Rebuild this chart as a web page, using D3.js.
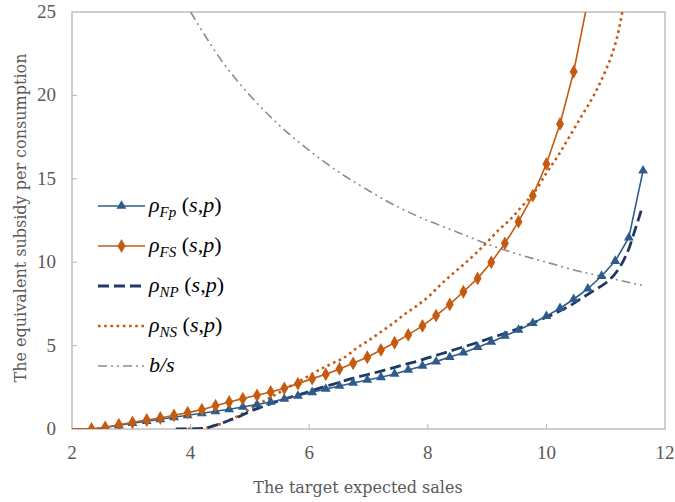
<!DOCTYPE html>
<html>
<head>
<meta charset="utf-8">
<script src="https://cdn.jsdelivr.net/npm/d3@7"></script>
<style>
  body { margin: 0; background: #fff; }
  svg { display: block; }
</style>
</head>
<body>
<div id="chart"></div>
<script>
// chart size
var width = 675;
var height = 502;

// target expected sales where the marker series are sampled
var salesX = [2.33, 2.56, 2.79, 3.02, 3.26, 3.49, 3.72, 3.95, 4.19, 4.42, 4.65,
  4.88, 5.12, 5.35, 5.58, 5.81, 6.05, 6.28, 6.51, 6.74, 6.98, 7.21, 7.44, 7.67,
  7.91, 8.14, 8.37, 8.60, 8.84, 9.07, 9.30, 9.53, 9.77, 10.00, 10.23, 10.46,
  10.70, 10.93, 11.16, 11.39, 11.63];

// rho_Fp(s,p) - blue, triangles
var rhoFp = [0.0, 0.09, 0.22, 0.35, 0.47, 0.58, 0.70, 0.82, 0.94, 1.06, 1.18,
  1.32, 1.47, 1.62, 1.80, 1.98, 2.20, 2.40, 2.58, 2.76, 2.94, 3.10, 3.30, 3.54,
  3.78, 4.04, 4.31, 4.57, 4.90, 5.22, 5.58, 5.94, 6.34, 6.77, 7.24, 7.78,
  8.41, 9.17, 10.07, 11.47, 15.49];

// rho_FS(s,p) - orange, diamonds (last point runs past the top)
var rhoFS = [0.0, 0.10, 0.26, 0.40, 0.54, 0.66, 0.82, 0.98, 1.16, 1.40, 1.62,
  1.82, 2.02, 2.22, 2.44, 2.72, 3.02, 3.28, 3.60, 3.94, 4.30, 4.74, 5.17, 5.64,
  6.18, 6.80, 7.47, 8.23, 9.03, 9.99, 11.13, 12.43, 13.99, 15.89, 18.29, 21.42,
  25.7];

// rho_NP(s,p) - navy dashed
var npX = [3.75, 4.2, 4.4, 4.6, 4.8, 5.0, 5.2, 5.4, 5.6, 5.8, 6.0, 6.2, 6.4, 6.6,
  6.8, 7.0, 7.2, 7.4, 7.6, 7.8, 8.0, 8.2, 8.4, 8.6, 8.8, 9.0, 9.2, 9.4, 9.6, 9.8,
  10.0, 10.2, 10.4, 10.6, 10.8, 11.0, 11.2, 11.3, 11.4, 11.5, 11.6];
var rhoNP = [0, 0.03, 0.2, 0.45, 0.72, 1.05, 1.32, 1.58, 1.82, 2.03, 2.25, 2.48,
  2.68, 2.9, 3.1, 3.28, 3.46, 3.65, 3.85, 4.04, 4.26, 4.48, 4.7, 4.92, 5.14,
  5.38, 5.62, 5.86, 6.12, 6.4, 6.7, 7.03, 7.4, 7.85, 8.3, 8.75, 9.5, 10.1, 10.9,
  12.0, 13.1];

// rho_NS(s,p) - orange dotted
var nsX = [3.85, 4.2, 4.4, 4.6, 4.8, 5.0, 5.2, 5.4, 5.6, 5.8, 6.0, 6.2, 6.4, 6.6,
  6.8, 7.0, 7.2, 7.4, 7.6, 7.8, 8.0, 8.2, 8.4, 8.6, 8.8, 9.0, 9.2, 9.4, 9.6, 9.8,
  10.0, 10.2, 10.4, 10.6, 10.8, 11.0, 11.1, 11.2, 11.3];
var rhoNS = [0, 0.04, 0.2, 0.44, 0.78, 1.2, 1.6, 2.0, 2.4, 2.8, 3.2, 3.6, 3.95,
  4.3, 4.85, 5.3, 5.8, 6.3, 6.85, 7.35, 7.9, 8.6, 9.25, 9.85, 10.5, 11.2, 11.95,
  12.6, 13.4, 14.2, 15.35, 16.4, 17.6, 18.8, 20.0, 21.5, 22.4, 23.6, 25.4];

// b/s - gray dash dot dot
var bsX = [4.0, 4.5, 5.0, 5.5, 6.0, 6.5, 7.0, 7.5, 8.0, 8.5, 9.0, 9.5, 10.0,
  10.5, 11.0, 11.63];
var bsY = [25, 22.2, 20, 18.2, 16.7, 15.4, 14.3, 13.3, 12.5, 11.8, 11.1, 10.5,
  10.0, 9.5, 9.1, 8.6];

var xTicks = [2, 4, 6, 8, 10, 12];
var yTicks = [0, 5, 10, 15, 20, 25];

var legendItems = [
  { sub: "Fp", key: "fp" },
  { sub: "FS", key: "fs" },
  { sub: "NP", key: "np" },
  { sub: "NS", key: "ns" },
  { sub: null, key: "bs" }
];

var blue = "#2e5c8a";
var navy = "#1f3864";
var orange = "#c55a11";
var gray = "#8c8c8c";
var textGray = "#595959";

var margin = { left: 72, top: 12, right: 10, bottom: 73 };

var x = d3.scaleLinear().domain([2, 12]).range([margin.left, width - margin.right]);
var y = d3.scaleLinear().domain([0, 25]).range([height - margin.bottom, margin.top]);

var svg = d3.select("#chart").append("svg")
  .attr("width", width)
  .attr("height", height);

svg.append("defs").append("clipPath").attr("id", "plotclip")
  .append("rect")
  .attr("x", x(2)).attr("y", y(25))
  .attr("width", x(12) - x(2)).attr("height", y(0) - y(25));

// frame
svg.append("rect")
  .attr("x", x(2)).attr("y", y(25))
  .attr("width", x(12) - x(2)).attr("height", y(0) - y(25))
  .attr("fill", "none")
  .attr("stroke", "#bfbfbf")
  .attr("stroke-width", 1.5);

// inner ticks
svg.selectAll(".xtick").data(xTicks.slice(1, -1)).enter().append("line")
  .attr("x1", function(d) { return x(d); })
  .attr("x2", function(d) { return x(d); })
  .attr("y1", y(0))
  .attr("y2", y(0) - 5)
  .attr("stroke", "#bfbfbf").attr("stroke-width", 1.2);

svg.selectAll(".ytick").data(yTicks.slice(1, -1)).enter().append("line")
  .attr("x1", x(2))
  .attr("x2", x(2) + 5)
  .attr("y1", function(d) { return y(d); })
  .attr("y2", function(d) { return y(d); })
  .attr("stroke", "#bfbfbf").attr("stroke-width", 1.2);

var serif = "'Liberation Serif', 'DejaVu Serif', serif";
var wideSerif = "'DejaVu Serif', serif";

// tick labels
svg.selectAll(".xlab").data(xTicks).enter().append("text")
  .attr("x", function(d) { return x(d); })
  .attr("y", y(0) + 30)
  .attr("text-anchor", "middle")
  .attr("font-family", serif)
  .attr("font-size", 19)
  .attr("fill", textGray)
  .text(function(d) { return d; });

svg.selectAll(".ylab").data(yTicks).enter().append("text")
  .attr("x", x(2) - 16)
  .attr("y", function(d) { return y(d) + 6; })
  .attr("text-anchor", "end")
  .attr("font-family", serif)
  .attr("font-size", 19)
  .attr("fill", textGray)
  .text(function(d) { return d; });

// axis titles
svg.append("text")
  .attr("x", 358).attr("y", 493)
  .attr("text-anchor", "middle")
  .attr("font-family", wideSerif)
  .attr("font-size", 16)
  .attr("fill", textGray)
  .text("The target expected sales");

svg.append("text")
  .attr("transform", "translate(26,218) rotate(-90)")
  .attr("text-anchor", "middle")
  .attr("font-family", wideSerif)
  .attr("font-size", 16)
  .attr("fill", textGray)
  .text("The equivalent  subsidy per consumption");

var plot = svg.append("g").attr("clip-path", "url(#plotclip)");

var straight = d3.line()
  .x(function(d) { return x(d[0]); })
  .y(function(d) { return y(d[1]); });

var smooth = d3.line()
  .curve(d3.curveMonotoneX)
  .x(function(d) { return x(d[0]); })
  .y(function(d) { return y(d[1]); });

function pairs(xs, ys) {
  return ys.map(function(v, i) { return [xs[i], v]; });
}

var fpPts = pairs(salesX, rhoFp);
var fsPts = pairs(salesX, rhoFS);

var styles = {
  fp: { color: blue, width: 1.6, dash: null, symbol: d3.symbolTriangle, size: 42 },
  fs: { color: orange, width: 1.6, dash: null, symbol: d3.symbolDiamond, size: 55 },
  np: { color: navy, width: 2.8, dash: "11,5", symbol: null },
  ns: { color: orange, width: 2.6, dash: "2.6,3.6", symbol: null },
  bs: { color: gray, width: 1.6, dash: "9,4,2,4,2,4", symbol: null }
};

// b/s
plot.append("path")
  .attr("d", smooth(pairs(bsX, bsY)))
  .attr("fill", "none")
  .attr("stroke", styles.bs.color)
  .attr("stroke-width", styles.bs.width)
  .attr("stroke-dasharray", styles.bs.dash);

// rho_NS dotted
plot.append("path")
  .attr("d", smooth(pairs(nsX, rhoNS)))
  .attr("fill", "none")
  .attr("stroke", styles.ns.color)
  .attr("stroke-width", styles.ns.width)
  .attr("stroke-dasharray", styles.ns.dash);

// rho_NP dashed
plot.append("path")
  .attr("d", smooth(pairs(npX, rhoNP)))
  .attr("fill", "none")
  .attr("stroke", styles.np.color)
  .attr("stroke-width", styles.np.width)
  .attr("stroke-dasharray", styles.np.dash);

// marker series, line starts on the axis at x = 2
function drawMarkerSeries(pts, st) {
  plot.append("path")
    .attr("d", straight([[2, 0]].concat(pts)))
    .attr("fill", "none")
    .attr("stroke", st.color)
    .attr("stroke-width", st.width);
  plot.selectAll(null).data(pts).enter().append("path")
    .attr("d", d3.symbol().type(st.symbol).size(st.size))
    .attr("transform", function(d) { return "translate(" + x(d[0]) + "," + y(d[1]) + ")"; })
    .attr("fill", st.color);
}

drawMarkerSeries(fpPts, styles.fp);
drawMarkerSeries(fsPts, styles.fs);

// legend
var legend = svg.append("g").attr("transform", "translate(98,206)");
var rowGap = 40;

legendItems.forEach(function(item, i) {
  var st = styles[item.key];
  var g = legend.append("g").attr("transform", "translate(0," + (i * rowGap) + ")");
  g.append("line")
    .attr("x1", 0).attr("x2", 47)
    .attr("y1", 0).attr("y2", 0)
    .attr("stroke", st.color)
    .attr("stroke-width", st.width)
    .attr("stroke-dasharray", st.dash);
  if (st.symbol) {
    g.append("path")
      .attr("d", d3.symbol().type(st.symbol).size(st.size))
      .attr("transform", "translate(23.5,0)")
      .attr("fill", st.color);
  }
  var t = g.append("text")
    .attr("x", 51).attr("y", 6)
    .attr("font-family", serif)
    .attr("font-size", 22)
    .attr("fill", "#000");
  if (item.sub) {
    t.append("tspan").attr("font-style", "italic").text("\u03C1");
    t.append("tspan").attr("font-style", "italic").attr("font-size", 15)
      .attr("dy", 5).text(item.sub);
    t.append("tspan").attr("dy", -5).text(" (");
    t.append("tspan").attr("font-style", "italic").text("s");
    t.append("tspan").text(",");
    t.append("tspan").attr("font-style", "italic").text("p");
    t.append("tspan").text(")");
  } else {
    t.append("tspan").attr("font-style", "italic").text("b/s");
  }
});
</script>
</body>
</html>
